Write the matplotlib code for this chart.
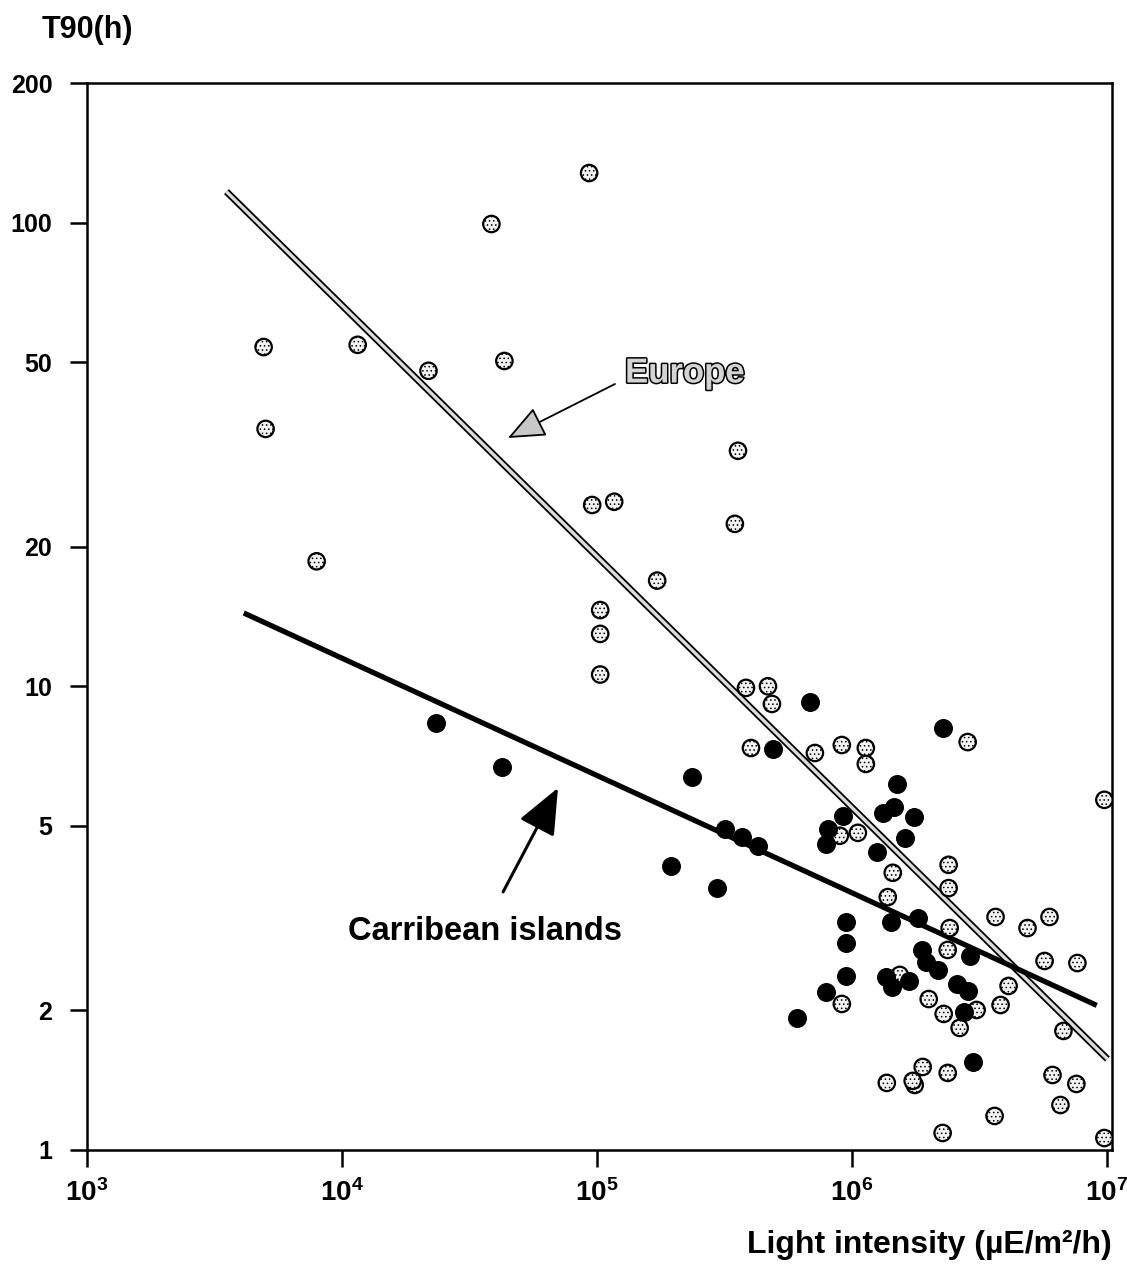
import numpy as np
import matplotlib.pyplot as plt
import matplotlib.patheffects as pe

plt.rcParams['font.family'] = ['Liberation Sans', 'DejaVu Sans']
plt.rcParams['font.weight'] = 'bold'
plt.rcParams['mathtext.fontset'] = 'custom'
plt.rcParams['mathtext.rm'] = 'Liberation Sans:bold'
plt.rcParams['mathtext.default'] = 'rm'
plt.rcParams['hatch.linewidth'] = 0.6

# Europe samples (light intensity, T90)
europe_x = [4930, 5020, 7960, 11530, 21860, 38590, 43390, 93300, 95900, 117000,
            103100, 103100, 103100, 172500, 358000, 348000, 384800, 469300, 486400, 402500,
            717000, 914600, 1.136e6, 1.136e6, 898300, 1.057e6, 1.449e6, 2.85e6, 9.80e6, 2.40e6,
            2.40e6, 1.385e6, 3.667e6, 5.97e6, 4.895e6, 2.423e6, 2.38e6, 1.543e6, 5.71e6, 7.68e6,
            4.125e6, 2.005e6, 3.837e6, 2.295e6, 3.09e6, 2.651e6, 6.77e6, 1.899e6, 2.38e6, 1.767e6,
            6.135e6, 7.61e6, 6.59e6, 3.635e6, 2.274e6, 9.80e6, 914600, 1.373e6, 1.735e6]
europe_y = [53.9, 35.9, 18.6, 54.5, 47.9, 99.3, 50.3, 127.9, 24.6, 25.0,
            14.6, 12.97, 10.6, 16.9, 32.2, 22.4, 9.92, 10.0, 9.16, 7.36,
            7.18, 7.47, 7.36, 6.80, 4.76, 4.83, 3.96, 7.58, 5.69, 4.12,
            3.67, 3.51, 3.18, 3.18, 3.01, 3.01, 2.70, 2.385, 2.556, 2.53,
            2.258, 2.116, 2.054, 1.965, 2.004, 1.833, 1.806, 1.51, 1.466, 1.381,
            1.451, 1.388, 1.25, 1.184, 1.088, 1.061, 2.065, 1.395, 1.409]

# Caribbean islands samples
carib_x = [23500, 42610, 195600, 236400, 296100, 318400, 371200, 428800, 491000, 685000,
           609500, 791700, 791700, 806000, 922800, 948500, 948500, 948500, 1.254e6, 1.324e6,
           1.462e6, 1.502e6, 1.423e6, 1.36e6, 1.436e6, 1.614e6, 1.674e6, 1.751e6, 1.816e6, 1.882e6,
           1.951e6, 2.174e6, 2.274e6, 2.581e6, 2.85e6, 2.749e6, 2.90e6, 2.98e6]
carib_y = [8.34, 6.70, 4.10, 6.37, 3.67, 4.92, 4.73, 4.52, 7.32, 9.25,
           1.926, 2.19, 4.57, 4.92, 5.25, 3.10, 2.795, 2.373, 4.39, 5.33,
           5.49, 6.16, 3.10, 2.36, 2.246, 4.71, 2.314, 5.23, 3.16, 2.70,
           2.543, 2.445, 8.13, 2.28, 2.203, 1.985, 2.62, 1.548]

# fitted regression lines (end points)
europe_fit_x = [3525, 1.007e7]
europe_fit_y = [116.6, 1.571]
carib_fit_x = [4121, 9.145e6]
carib_fit_y = [14.39, 2.05]

xticks = [1e3, 1e4, 1e5, 1e6, 1e7]
xtick_labels = ['$10^3$', '$10^4$', '$10^5$', '$10^6$', '$10^7$']
yticks = [1, 2, 5, 10, 20, 50, 100, 200]
ytick_labels = ['1', '2', '5', '10', '20', '50', '100', '200']

fig = plt.figure(figsize=(11.27, 12.79), dpi=100)
ax = fig.add_axes([0.0772, 0.1009, 0.9095, 0.8342])
ax.set_xscale('log')
ax.set_yscale('log')

# Europe line: double outline with light core
ax.plot(europe_fit_x, europe_fit_y, color='black', lw=5.0, solid_capstyle='butt', zorder=2)
ax.plot(europe_fit_x, europe_fit_y, color='#dcdcdc', lw=2.4, solid_capstyle='butt', zorder=2)
ax.plot(carib_fit_x, carib_fit_y, color='black', lw=3.8, solid_capstyle='butt', zorder=2)

ax.scatter(europe_x, europe_y, s=140, facecolor='#f2f2f2', edgecolor='black',
           linewidth=1.6, hatch='....', zorder=3)
ax.scatter(carib_x, carib_y, s=160, color='black', zorder=4)

ax.set_xlim(1e3, 1.05e7)
ax.set_ylim(1, 200)
ax.set_xticks(xticks)
ax.set_xticklabels(xtick_labels, fontsize=20)
ax.set_yticks(yticks)
ax.set_yticklabels(ytick_labels, fontsize=18, fontweight='bold')
ax.minorticks_off()
ax.tick_params(axis='y', direction='out', length=12, width=1.8, pad=13)
ax.tick_params(axis='x', direction='out', length=12, width=1.8, pad=9)
for s in ax.spines.values():
    s.set_linewidth(1.8)

# annotations
ax.annotate('', xy=(0.4107, 0.6673), xytext=(0.5151, 0.7179), xycoords='axes fraction',
            arrowprops=dict(arrowstyle='-|>,head_length=1.3,head_width=0.55', mutation_scale=18,
                            facecolor='#c8c8c8', edgecolor='black', lw=1.3, shrinkA=0, shrinkB=0))
ax.text(0.5249, 0.7282, 'Europe', transform=ax.transAxes, fontsize=25, fontweight='bold',
        color='#d4d4d4', ha='left', va='center',
        path_effects=[pe.withStroke(linewidth=2.2, foreground='black')])

ax.annotate('', xy=(0.4595, 0.3393), xytext=(0.4059, 0.2418), xycoords='axes fraction',
            arrowprops=dict(arrowstyle='-|>,head_length=1.3,head_width=0.55', mutation_scale=22,
                            color='black', lw=2.2, shrinkA=0, shrinkB=0))
ax.text(0.2546, 0.2052, 'Carribean islands', transform=ax.transAxes, fontsize=23.5,
        fontweight='bold', ha='left', va='center')

fig.text(0.037, 0.9765, 'T90(h)', fontsize=22, fontweight='bold', ha='left', va='center')
fig.text(0.9867, 0.0266, 'Light intensity (µE/m²/h)', fontsize=23, fontweight='bold',
         ha='right', va='center')

fig.savefig('out.png', dpi=100)
